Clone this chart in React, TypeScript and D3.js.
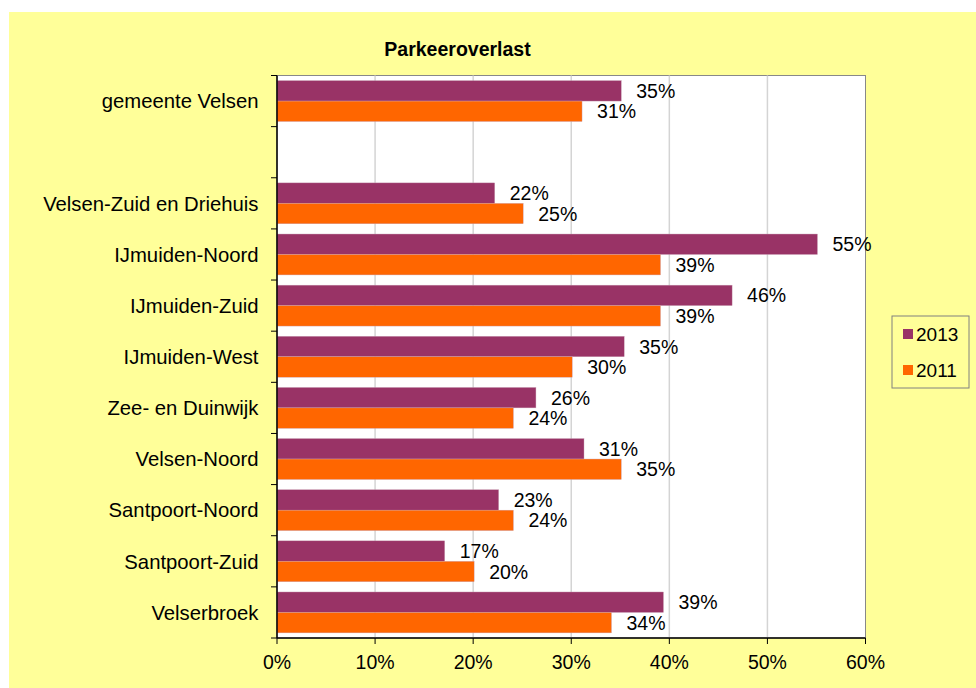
import React from "react";
import * as d3 from "d3";

const categories = [
  "gemeente Velsen",
  "",
  "Velsen-Zuid en Driehuis",
  "IJmuiden-Noord",
  "IJmuiden-Zuid",
  "IJmuiden-West",
  "Zee- en Duinwijk",
  "Velsen-Noord",
  "Santpoort-Noord",
  "Santpoort-Zuid",
  "Velserbroek",
];
const values2013: (number | null)[] = [35.1, null, 22.2, 55.1, 46.4, 35.4, 26.4, 31.3, 22.6, 17.1, 39.4];
const values2011: (number | null)[] = [31.1, null, 25.1, 39.1, 39.1, 30.1, 24.1, 35.1, 24.1, 20.1, 34.1];
const xTicks = [0, 10, 20, 30, 40, 50, 60];
const seriesNames = ["2013", "2011"];
const seriesColors = ["#993366", "#FF6600"];

const W = 976;
const H = 688;
const plot = { left: 277, right: 865.5, top: 75.5, bottom: 638 };
const font = "'Liberation Sans', Arial, sans-serif";

export default function App() {
  const x = d3.scaleLinear().domain([0, 60]).range([plot.left, plot.right]);
  const y = d3
    .scaleBand<string>()
    .domain(categories.map((c, i) => String(i)))
    .range([plot.top, plot.bottom])
    .paddingInner(0)
    .paddingOuter(0);
  const step = y.step();
  const barH = step * 0.4;
  const series = [values2013, values2011];

  return (
    <svg
      width={W}
      height={H}
      style={{ position: "absolute", left: 0, top: 0, fontFamily: font }}
    >
      <rect x={9} y={12} width={W - 9} height={H - 12} fill="#FFFF99" />
      <text x={457.5} y={55.5} textAnchor="middle" fontSize={19.5} fontWeight="bold" fill="#000">
        Parkeeroverlast
      </text>
      <rect
        x={plot.left}
        y={plot.top}
        width={plot.right - plot.left}
        height={plot.bottom - plot.top}
        fill="#fff"
        stroke="#888"
        strokeWidth={1}
      />
      {xTicks.slice(1, -1).map((t) => (
        <line key={t} x1={x(t)} x2={x(t)} y1={plot.top} y2={plot.bottom} stroke="#d4d4d4" strokeWidth={1.5} />
      ))}
      {categories.map((c, i) => {
        const y0 = y(String(i))!;
        const gap = (step - 2 * barH) / 2;
        return (
          <g key={i}>
            {series.map((vals, s) => {
              const v = vals[i];
              if (v == null) return null;
              const by = y0 + gap + s * barH;
              return (
                <g key={s}>
                  <rect
                    x={x(0)}
                    y={by}
                    width={x(v) - x(0)}
                    height={barH}
                    fill={seriesColors[s]}
                    stroke="#c9a0b4"
                    strokeWidth={0.4}
                  />
                  <text
                    x={x(v) + 15}
                    y={by + barH / 2}
                    dy="0.36em"
                    fontSize={19.5}
                    fill="#000"
                  >
                    {Math.round(v)}%
                  </text>
                </g>
              );
            })}
            <text x={258.5} y={y0 + step / 2} dy="0.36em" textAnchor="end" fontSize={20.3} fill="#000">
              {c}
            </text>
          </g>
        );
      })}
      {/* axes */}
      <line x1={plot.left} x2={plot.left} y1={plot.top} y2={plot.bottom} stroke="#000" strokeWidth={1.5} />
      <line x1={plot.left} x2={plot.right} y1={plot.bottom} y2={plot.bottom} stroke="#000" strokeWidth={1.5} />
      {categories.map((c, i) => (
        <line
          key={"yt" + i}
          x1={plot.left - 6}
          x2={plot.left}
          y1={y(String(i))!}
          y2={y(String(i))!}
          stroke="#000"
        />
      ))}
      <line x1={plot.left - 6} x2={plot.left} y1={plot.bottom} y2={plot.bottom} stroke="#000" />
      {xTicks.map((t) => (
        <g key={"xt" + t}>
          <line x1={x(t)} x2={x(t)} y1={plot.bottom} y2={plot.bottom + 6} stroke="#000" />
          <text x={x(t)} y={669} textAnchor="middle" fontSize={19.5} fill="#000">
            {t}%
          </text>
        </g>
      ))}
      {/* legend */}
      <rect x={892} y={316} width={77} height={72} fill="#FFFF99" stroke="#808080" strokeWidth={1} />
      {seriesNames.map((n, s) => (
        <g key={n}>
          <rect x={903} y={329 + s * 36} width={10} height={10} fill={seriesColors[s]} />
          <text x={916} y={334 + s * 36} dy="0.36em" fontSize={19} fill="#000">
            {n}
          </text>
        </g>
      ))}
    </svg>
  );
}
